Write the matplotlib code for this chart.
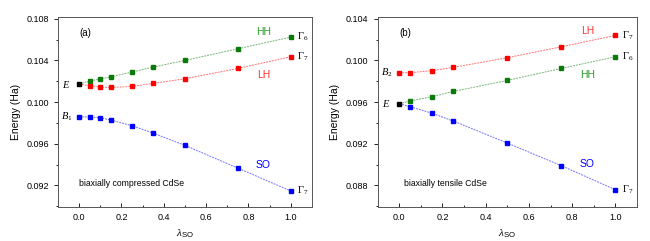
import matplotlib
matplotlib.use('Agg')
import matplotlib.pyplot as plt
from matplotlib.ticker import MultipleLocator

plt.rcParams['font.family'] = ['Liberation Sans', 'DejaVu Sans']
plt.rcParams['mathtext.fontset'] = 'custom'
plt.rcParams['mathtext.rm'] = 'Liberation Serif'
plt.rcParams['mathtext.it'] = 'Liberation Serif:italic'
plt.rcParams['mathtext.sf'] = 'Liberation Sans'

# panel (a): biaxially compressed CdSe
a_e = 0.10173
a_hh_x = [0.05, 0.1, 0.15, 0.25, 0.35, 0.5, 0.75, 1.0]
a_hh_y = [0.10202, 0.10221, 0.10243, 0.10288, 0.10336, 0.10400, 0.10512, 0.10624]
a_lh_x = [0.05, 0.1, 0.15, 0.25, 0.35, 0.5, 0.75, 1.0]
a_lh_y = [0.10157, 0.10144, 0.10141, 0.10150, 0.10179, 0.10224, 0.10323, 0.10435]
a_so_x = [0.0, 0.05, 0.1, 0.15, 0.25, 0.35, 0.5, 0.75, 1.0]
a_so_y = [0.09859, 0.09856, 0.09850, 0.09827, 0.09773, 0.09702, 0.09584, 0.09366, 0.09146]

# panel (b): biaxially tensile CdSe
b_e = 0.09584
b_lh_x = [0.0, 0.05, 0.15, 0.25, 0.5, 0.75, 1.0]
b_lh_y = [0.09882, 0.09882, 0.09901, 0.09933, 0.10026, 0.10131, 0.10240]
b_hh_x = [0.05, 0.15, 0.25, 0.5, 0.75, 1.0]
b_hh_y = [0.09610, 0.09651, 0.09702, 0.09808, 0.09923, 0.10035]
b_so_x = [0.05, 0.15, 0.25, 0.5, 0.75, 1.0]
b_so_y = [0.09555, 0.09494, 0.09418, 0.09206, 0.08989, 0.08758]

GREEN = '#0a7a0a'
RED = '#ff0000'
BLUE = '#0000ff'

fig = plt.figure(figsize=(6.5, 2.41), dpi=100)
ax1 = fig.add_axes([0.089, 0.141, 0.391, 0.788])
ax2 = fig.add_axes([0.581, 0.141, 0.399, 0.788])


def band(ax, x, y, c, start=None):
    lx, ly = list(x), list(y)
    if start is not None:
        lx, ly = [0.0] + lx, [start] + ly
    ax.plot(lx, ly, color=c, lw=0.7, alpha=0.55, ls=(0, (2, 1)))
    ax.plot(x, y, 's', color=c, ms=3.4, mec=c)


def style(ax, ylim, major):
    ax.set_xlim(-0.1, 1.1)
    ax.set_ylim(*ylim)
    ax.xaxis.set_major_locator(MultipleLocator(0.2))
    ax.xaxis.set_minor_locator(MultipleLocator(0.1))
    ax.yaxis.set_major_locator(MultipleLocator(major))
    ax.yaxis.set_minor_locator(MultipleLocator(major / 2))
    ax.yaxis.set_major_formatter(plt.FormatStrFormatter('%.3f'))
    ax.tick_params(axis='x', which='both', direction='in', labelsize=6.5, pad=4)
    ax.tick_params(axis='x', which='major', length=3, width=0.6)
    ax.tick_params(axis='x', which='minor', length=1.5, width=0.6)
    ax.tick_params(axis='y', which='both', direction='out', labelsize=6.5)
    ax.tick_params(axis='y', which='major', length=3, width=0.6)
    ax.tick_params(axis='y', which='minor', length=1.5, width=0.6)
    for s in ax.spines.values():
        s.set_linewidth(0.7)
        s.set_color('#555555')
    ax.set_xlabel(r'$\lambda_{\mathsf{SO}}$', fontsize=8)
    ax.set_ylabel('Energy (Ha)', fontsize=7.5)


# (a)
band(ax1, a_hh_x, a_hh_y, GREEN, a_e)
band(ax1, a_lh_x, a_lh_y, RED, a_e)
band(ax1, a_so_x, a_so_y, BLUE)
ax1.plot([0.0], [a_e], 's', color='black', ms=3.4)
style(ax1, (0.08992, 0.10816), 0.004)
ax1.text(0.0, 0.10666, '(a)', fontsize=7, va='center')
ax1.text(0.0, 0.09222, 'biaxially compressed CdSe', fontsize=6.2, va='center')
ax1.text(0.87, 0.10672, 'HH', color='#2a9a2a', fontsize=7.5, ha='center', va='center')
ax1.text(0.87, 0.10256, 'LH', color='#ff3030', fontsize=7.5, ha='center', va='center')
ax1.text(0.87, 0.09392, 'SO', color=BLUE, fontsize=7.5, ha='center', va='center')
ax1.text(-0.04, a_e, r'$E$', fontsize=7.5, ha='right', va='center')
ax1.text(-0.03, a_so_y[0], r'$B_1$', fontsize=7.5, ha='right', va='center')
ax1.text(1.03, a_hh_y[-1], r'$\mathrm{\Gamma}_6$', fontsize=7.5, va='center')
ax1.text(1.03, a_lh_y[-1], r'$\mathrm{\Gamma}_7$', fontsize=7.5, va='center')
ax1.text(1.03, a_so_y[-1], r'$\mathrm{\Gamma}_7$', fontsize=7.5, va='center')

# (b)
band(ax2, b_lh_x, b_lh_y, RED)
band(ax2, b_hh_x, b_hh_y, GREEN, b_e)
band(ax2, b_so_x, b_so_y, BLUE, b_e)
ax2.plot([0.0], [b_e], 's', color='black', ms=3.4)
style(ax2, (0.08592, 0.10416), 0.004)
ax2.text(0.0, 0.10266, '(b)', fontsize=7, va='center')
ax2.text(0.02, 0.08822, 'biaxially tensile CdSe', fontsize=6.2, va='center')
ax2.text(0.87, 0.10282, 'LH', color='#ff3030', fontsize=7.5, ha='center', va='center')
ax2.text(0.87, 0.09860, 'HH', color='#2a9a2a', fontsize=7.5, ha='center', va='center')
ax2.text(0.87, 0.09002, 'SO', color=BLUE, fontsize=7.5, ha='center', va='center')
ax2.text(-0.04, b_e, r'$E$', fontsize=7.5, ha='right', va='center')
ax2.text(-0.03, b_lh_y[0], r'$B_2$', fontsize=7.5, ha='right', va='center')
ax2.text(1.03, b_lh_y[-1], r'$\mathrm{\Gamma}_7$', fontsize=7.5, va='center')
ax2.text(1.03, b_hh_y[-1], r'$\mathrm{\Gamma}_6$', fontsize=7.5, va='center')
ax2.text(1.03, b_so_y[-1], r'$\mathrm{\Gamma}_7$', fontsize=7.5, va='center')

fig.savefig('out.png', dpi=100)
